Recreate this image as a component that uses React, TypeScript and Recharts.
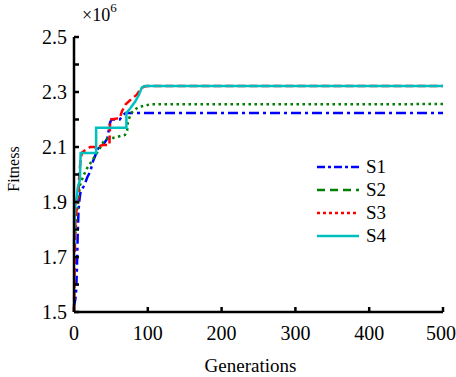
import { Legend, Line, LineChart, XAxis, YAxis } from 'recharts';

// generation / fitness (×10^6) pairs
const s1Gen = [0, 2, 3, 4, 5, 6, 7, 9, 14, 18, 22, 26, 29, 31, 35, 40, 45, 47, 49, 51, 62, 66, 70, 500];
const s1Fit = [1.52, 1.55, 1.58, 1.66, 1.78, 1.86, 1.9, 1.94, 1.96, 1.99, 2.01, 2.05, 2.07, 2.09, 2.1, 2.11, 2.13, 2.16, 2.19, 2.2, 2.2, 2.215, 2.224, 2.224];

const s2Gen = [0, 2, 4, 6, 8, 12, 17, 22, 28, 35, 40, 45, 53, 69, 72, 73, 77, 82, 87, 95, 103, 500];
const s2Fit = [1.72, 1.8, 1.86, 1.9, 1.96, 1.99, 2.02, 2.04, 2.065, 2.095, 2.12, 2.13, 2.133, 2.144, 2.16, 2.19, 2.222, 2.235, 2.245, 2.25, 2.255, 2.256];

const s3Gen = [0, 1, 2, 4, 6, 7, 9, 11, 16, 22, 28, 32, 36, 40, 48, 49, 62, 65, 70, 78, 85, 90, 95, 100, 500];
const s3Fit = [1.5, 1.7, 1.84, 1.88, 1.93, 1.99, 2.06, 2.08, 2.09, 2.1, 2.1, 2.095, 2.105, 2.107, 2.107, 2.2, 2.205, 2.23, 2.255, 2.275, 2.29, 2.31, 2.32, 2.322, 2.322];

const s4Gen = [0, 1, 2, 4, 5, 8, 9, 30, 30, 71, 71, 76, 83, 88, 92, 96, 500];
const s4Fit = [1.74, 1.85, 1.89, 1.92, 1.95, 1.98, 2.078, 2.078, 2.17, 2.17, 2.224, 2.24, 2.265, 2.29, 2.317, 2.322, 2.322];

const xTicks = [0, 100, 200, 300, 400, 500];
const yTicks = [1.5, 1.6, 1.7, 1.8, 1.9, 2.0, 2.1, 2.2, 2.3, 2.4, 2.5];
const yLabeled = [1.5, 1.7, 1.9, 2.1, 2.3, 2.5];

const toPoints = (gen: number[], fit: number[]) => gen.map((g, i) => ({ gen: g, fit: fit[i] }));

const FONT = "'Liberation Serif', Tinos, 'Times New Roman', Times, serif";

// plot dashes follow the curves; legend samples follow the figure's legend
const series = [
  { name: 'S1', data: toPoints(s1Gen, s1Fit), color: '#0000ff', dash: '10 4 3 4', legendDash: '8 3 3 3' },
  { name: 'S2', data: toPoints(s2Gen, s2Fit), color: '#008000', dash: '2.5 3.5', legendDash: '8 5' },
  { name: 'S3', data: toPoints(s3Gen, s3Fit), color: '#ff0000', dash: '8 4', legendDash: '3 3' },
  { name: 'S4', data: toPoints(s4Gen, s4Fit), color: '#00bfbf', dash: undefined, legendDash: undefined },
];

const tickStyle = { fill: '#000', fontSize: 20, style: { fontFamily: FONT } };

function LegendBox() {
  return (
    <div style={{ fontFamily: FONT, fontSize: 19, color: '#000' }}>
      {series.map((s) => (
        <div key={s.name} style={{ display: 'flex', alignItems: 'center', height: 23 }}>
          <svg width={44} height={10} style={{ marginRight: 6 }}>
            <line x1={1} y1={5} x2={43} y2={5} stroke={s.color} strokeWidth={2.5} strokeDasharray={s.legendDash} />
          </svg>
          <span>{s.name}</span>
        </div>
      ))}
    </div>
  );
}

const FitnessLabel = () => (
  <text x={19} y={169} transform="rotate(-90 19 169)" textAnchor="middle" fill="#000" fontSize={16} style={{ fontFamily: FONT }}>
    Fitness
  </text>
);

export default function App() {
  return (
    <div style={{ position: 'absolute', left: 0, top: 0, width: 456, height: 377, background: '#fff', fontFamily: FONT }}>
      <LineChart width={456} height={377} margin={{ top: 37, right: 13, bottom: 5, left: 4 }}>
        <XAxis
          type="number"
          dataKey="gen"
          domain={[0, 500]}
          ticks={xTicks}
          allowDuplicatedCategory={false}
          height={60}
          stroke="#000"
          strokeWidth={2.5}
          tickSize={-5}
          tickMargin={19}
          tick={tickStyle}
          label={{ value: 'Generations', position: 'insideBottom', offset: 0, dx: -8, fill: '#000', fontSize: 19, style: { fontFamily: FONT } }}
        />
        <XAxis
          xAxisId="top"
          orientation="top"
          type="number"
          domain={[0, 500]}
          ticks={xTicks}
          height={0}
          stroke="#000"
          strokeWidth={2.5}
          tickSize={-5}
          tick={false}
        />
        <YAxis
          type="number"
          domain={[1.5, 2.5]}
          ticks={yTicks}
          width={70}
          stroke="#000"
          strokeWidth={2.5}
          tickSize={-5}
          tickMargin={12}
          tick={tickStyle}
          tickFormatter={(v: number) => (yLabeled.some((t) => Math.abs(t - v) < 1e-6) ? v.toFixed(1) : '')}
          label={{ content: FitnessLabel }}
        />
        <YAxis
          yAxisId="right"
          orientation="right"
          type="number"
          domain={[1.5, 2.5]}
          ticks={yTicks}
          width={0}
          stroke="#000"
          strokeWidth={2.5}
          tickSize={-5}
          tick={false}
        />
        <Legend
          layout="vertical"
          align="center"
          verticalAlign="middle"
          content={() => <LegendBox />}
          wrapperStyle={{ left: 316, top: 155, width: 'auto' }}
        />
        {series.map((s) => (
          <Line
            key={s.name}
            data={s.data}
            dataKey="fit"
            name={s.name}
            type="linear"
            stroke={s.color}
            strokeWidth={2.5}
            strokeDasharray={s.dash}
            dot={false}
            activeDot={false}
            isAnimationActive={false}
          />
        ))}
      </LineChart>
      <div style={{ position: 'absolute', left: 82, top: 6, fontSize: 18, color: '#000', lineHeight: 1 }}>
        ×10<sup style={{ fontSize: 13, verticalAlign: 'top', position: 'relative', top: -5 }}>6</sup>
      </div>
    </div>
  );
}
